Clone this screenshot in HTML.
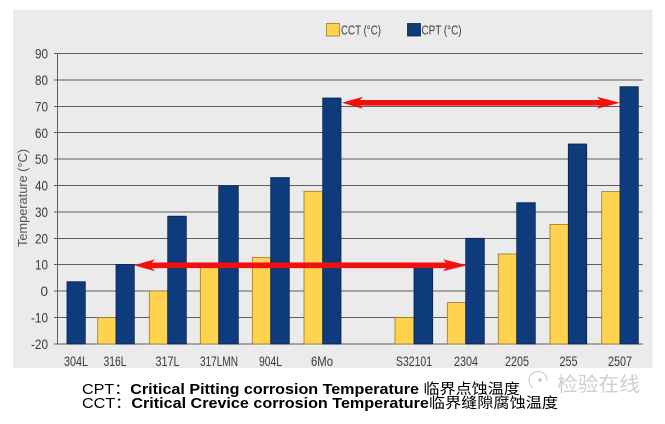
<!DOCTYPE html>
<html><head><meta charset="utf-8">
<style>
html,body{margin:0;padding:0;background:#fff;}
body{width:665px;height:424px;overflow:hidden;position:relative;}
svg{position:absolute;left:0;top:0;}
.t{font-family:"Liberation Sans","Noto Sans CJK SC",sans-serif;}
</style></head>
<body>
<svg width="665" height="424" viewBox="0 0 665 424" xmlns="http://www.w3.org/2000/svg">
<rect x="13" y="10" width="639.5" height="358" fill="#ebebeb"/>
<!-- gridlines -->
<g stroke="#5e5e5e" stroke-width="1">
<line x1="54" y1="53.5" x2="643" y2="53.5"/>
<line x1="54" y1="80" x2="643" y2="80"/>
<line x1="54" y1="106.5" x2="643" y2="106.5"/>
<line x1="54" y1="132.5" x2="643" y2="132.5"/>
<line x1="54" y1="159" x2="643" y2="159"/>
<line x1="54" y1="185.5" x2="643" y2="185.5"/>
<line x1="54" y1="212" x2="643" y2="212"/>
<line x1="54" y1="238.5" x2="643" y2="238.5"/>
<line x1="54" y1="264.5" x2="643" y2="264.5"/>
<line x1="54" y1="291" x2="643" y2="291"/>
<line x1="54" y1="317.5" x2="643" y2="317.5"/>
<line x1="54" y1="344" x2="643" y2="344"/>
<line x1="57.5" y1="53" x2="57.5" y2="344"/>
</g>
<!-- y tick labels -->
<g class="t" font-size="13.5" fill="#3a3a3a" text-anchor="end">
<text x="48" y="58.5" textLength="13" lengthAdjust="spacingAndGlyphs">90</text>
<text x="48" y="85" textLength="13" lengthAdjust="spacingAndGlyphs">80</text>
<text x="48" y="111.5" textLength="13" lengthAdjust="spacingAndGlyphs">70</text>
<text x="48" y="138" textLength="13" lengthAdjust="spacingAndGlyphs">60</text>
<text x="48" y="164" textLength="13" lengthAdjust="spacingAndGlyphs">50</text>
<text x="48" y="190.5" textLength="13" lengthAdjust="spacingAndGlyphs">40</text>
<text x="48" y="217" textLength="13" lengthAdjust="spacingAndGlyphs">30</text>
<text x="48" y="243.5" textLength="13" lengthAdjust="spacingAndGlyphs">20</text>
<text x="48" y="269.5" textLength="13" lengthAdjust="spacingAndGlyphs">10</text>
<text x="48" y="296">0</text>
<text x="48" y="322.5" textLength="17" lengthAdjust="spacingAndGlyphs">-10</text>
<text x="48" y="349" textLength="17" lengthAdjust="spacingAndGlyphs">-20</text>
</g>
<text class="t" font-size="12.5" fill="#555" text-anchor="middle" transform="translate(27,198) rotate(-90)" textLength="98" lengthAdjust="spacingAndGlyphs">Temperature (°C)</text>
<!-- bars CCT -->
<g fill="#ffd24f" stroke="#9a7a2a" stroke-width="0.8">
<rect x="97.7" y="317.5" width="18.3" height="26.5"/>
<rect x="149.3" y="291" width="18.4" height="53"/>
<rect x="200.3" y="264.5" width="18.4" height="79.5"/>
<rect x="252.3" y="257.4" width="18.4" height="86.6"/>
<rect x="304" y="191.3" width="18.7" height="152.7"/>
<rect x="395" y="317.5" width="19" height="26.5"/>
<rect x="447.3" y="302.6" width="18.4" height="41.4"/>
<rect x="498.3" y="254" width="18.4" height="90"/>
<rect x="550" y="224.4" width="18.3" height="119.6"/>
<rect x="601.7" y="191.6" width="18.3" height="152.4"/>
</g>
<!-- bars CPT -->
<g fill="#0d3b7c" stroke="#0a2350" stroke-width="0.8">
<rect x="67" y="281.7" width="18.3" height="62.3"/>
<rect x="116" y="264.5" width="18.3" height="79.5"/>
<rect x="167.7" y="216.2" width="18.6" height="127.8"/>
<rect x="218.7" y="185.8" width="19.6" height="158.2"/>
<rect x="270.7" y="177.6" width="18.6" height="166.4"/>
<rect x="322.7" y="98" width="18.3" height="246"/>
<rect x="414" y="267.5" width="18.7" height="76.5"/>
<rect x="465.7" y="238.3" width="18.6" height="105.7"/>
<rect x="516.7" y="202.7" width="18.6" height="141.3"/>
<rect x="568.3" y="144" width="18.4" height="200"/>
<rect x="620" y="86.7" width="18.3" height="257.3"/>
</g>
<!-- arrows -->
<g fill="#f01010">
<polygon points="342,102.8 363,96.8 360,100 600,100 597,96.8 620,102.8 597,108.8 600,105.6 360,105.6 363,108.8"/>
<polygon points="134,265.3 155,259.3 152,262.5 446,262.5 443,259.3 467,265.3 443,271.3 446,268.1 152,268.1 155,271.3"/>
</g>
<!-- x labels -->
<g class="t" font-size="13.5" fill="#3a3a3a" text-anchor="middle">
<text x="76" y="366" textLength="24" lengthAdjust="spacingAndGlyphs">304L</text>
<text x="115" y="366" textLength="23" lengthAdjust="spacingAndGlyphs">316L</text>
<text x="167.5" y="366" textLength="24" lengthAdjust="spacingAndGlyphs">317L</text>
<text x="219" y="366" textLength="38" lengthAdjust="spacingAndGlyphs">317LMN</text>
<text x="270.5" y="366" textLength="23" lengthAdjust="spacingAndGlyphs">904L</text>
<text x="322" y="366" textLength="22" lengthAdjust="spacingAndGlyphs">6Mo</text>
<text x="414" y="366" textLength="36" lengthAdjust="spacingAndGlyphs">S32101</text>
<text x="466" y="366" textLength="24" lengthAdjust="spacingAndGlyphs">2304</text>
<text x="517" y="366" textLength="24" lengthAdjust="spacingAndGlyphs">2205</text>
<text x="568.5" y="366" textLength="18" lengthAdjust="spacingAndGlyphs">255</text>
<text x="620" y="366" textLength="24" lengthAdjust="spacingAndGlyphs">2507</text>
</g>
<!-- legend -->
<rect x="326.5" y="23.5" width="13" height="12.5" fill="#ffd24f" stroke="#9a7a2a" stroke-width="0.8"/>
<text class="t" x="341" y="34.5" font-size="13" fill="#3a3a3a" textLength="40" lengthAdjust="spacingAndGlyphs">CCT (°C)</text>
<rect x="407.5" y="23.5" width="13" height="12.5" fill="#0d3b7c" stroke="#0a2350" stroke-width="0.8"/>
<text class="t" x="421.5" y="34.5" font-size="13" fill="#3a3a3a" textLength="40" lengthAdjust="spacingAndGlyphs">CPT (°C)</text>
<!-- watermark -->
<g stroke="#d0d0d0" fill="none" stroke-width="1.2">
<path d="M533,388 a9,9 0 1 1 14,-7"/>
<circle cx="540" cy="380" r="1.5" fill="#d0d0d0"/>
</g>
<text x="557" y="391" font-family="'Noto Sans CJK SC',sans-serif" font-size="20" fill="#cfcfcf" textLength="83" lengthAdjust="spacingAndGlyphs">检验在线</text>
<!-- footnote -->
<text class="t" x="82" y="394" font-size="14.5" fill="#000" textLength="438" lengthAdjust="spacingAndGlyphs">CPT：<tspan font-weight="bold">Critical Pitting corrosion Temperature</tspan> 临界点蚀温度</text>
<text class="t" x="82" y="408" font-size="14.5" fill="#000" textLength="476" lengthAdjust="spacingAndGlyphs">CCT：<tspan font-weight="bold">Critical Crevice corrosion Temperature</tspan>临界缝隙腐蚀温度</text>
</svg>
</body></html>
